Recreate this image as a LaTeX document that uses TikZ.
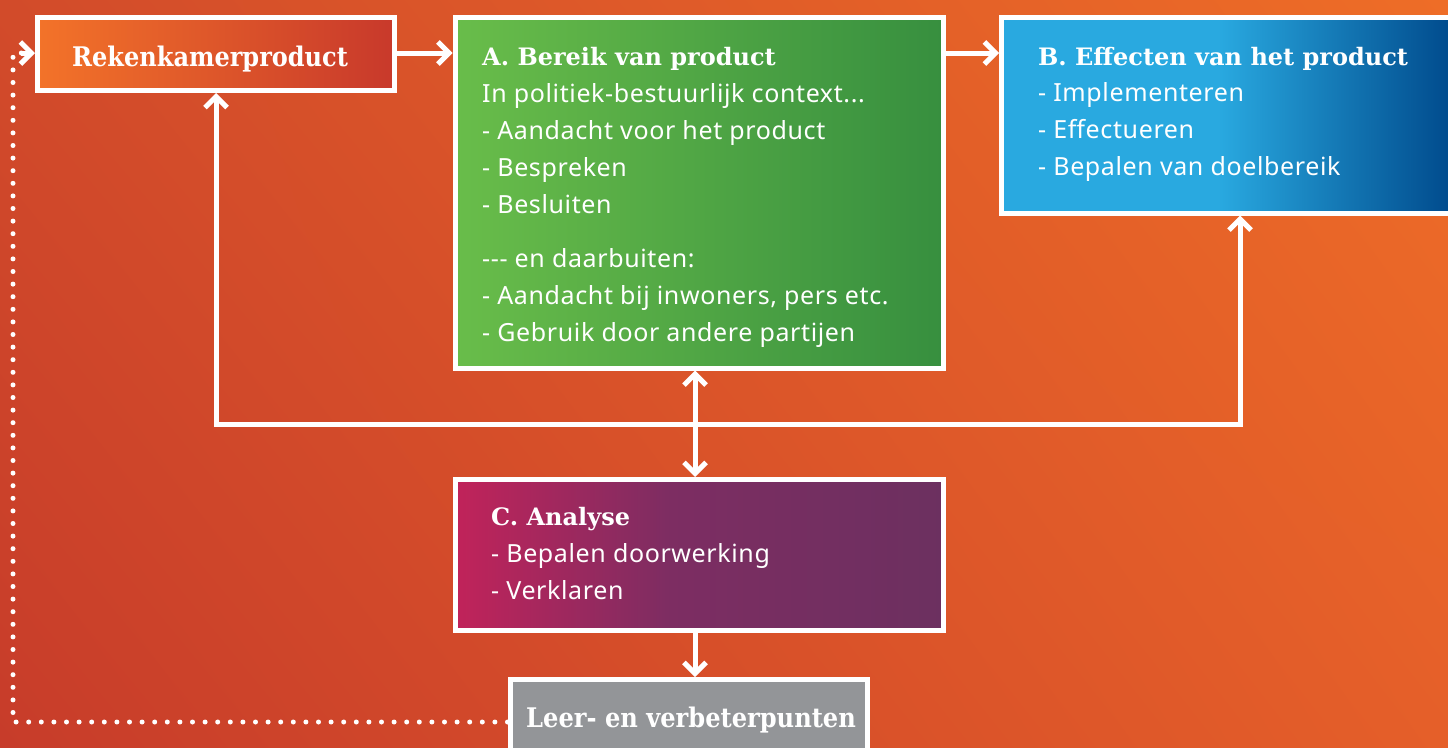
\documentclass[tikz,border=0pt]{standalone}
\usepackage{fontspec}
\usepackage{graphicx}
\setmainfont{Noto Sans}[LetterSpace=2.5]
\newfontfamily\titlefont{DejaVu Serif}
\usetikzlibrary{arrows.meta,shadings}
\definecolor{bgA}{HTML}{D24B2A}
\definecolor{bgB}{HTML}{EE6D27}
\definecolor{bgC}{HTML}{C73C2A}
\definecolor{bgD}{HTML}{E55F29}
\definecolor{rkL}{HTML}{F37329}
\definecolor{rkR}{HTML}{C8392B}
\definecolor{grL}{HTML}{69BD4A}
\definecolor{grR}{HTML}{378F3F}
\definecolor{blL}{HTML}{29A9E0}
\definecolor{blR}{HTML}{004A8C}
\definecolor{puL}{HTML}{C1235A}
\definecolor{puM}{HTML}{7D2D62}
\definecolor{puR}{HTML}{6C3060}
\definecolor{grey}{HTML}{939598}
\pgfdeclarehorizontalshading{blueshade}{100bp}{color(0bp)=(blL); color(25bp)=(blL); color(49bp)=(blL); color(75bp)=(blR); color(100bp)=(blR)}
\pgfdeclarehorizontalshading{purpleshade}{100bp}{color(0bp)=(puL); color(25bp)=(puL); color(47bp)=(puM); color(75bp)=(puR); color(100bp)=(puR)}
\tikzset{
  box/.style={draw=white, line width=5pt, inner sep=0pt, anchor=north west},
  ttl/.style={text=white, inner sep=0pt, anchor=base west, font=\titlefont\bfseries\fontsize{24}{37}\selectfont},
  body/.style={text=white, inner sep=0pt, anchor=base west, align=left, font=\fontsize{25}{37}\selectfont},
  arr/.style={draw=white, line width=5pt, -{Straight Barb[length=11pt,width=22pt,line cap=butt]}},
  arrboth/.style={draw=white, line width=5pt, {Straight Barb[length=11pt,width=22pt]}-{Straight Barb[length=11pt,width=22pt]}},
  dotline/.style={draw=white, line width=5pt, line cap=round, dash pattern=on 0pt off 12.6pt}
}
\begin{document}
\begin{tikzpicture}[x=1pt,y=-1pt]
\useasboundingbox (0,0) rectangle (1448,747);
\shade[upper left=bgA, upper right=bgB, lower left=bgC, lower right=bgD] (0,0) rectangle (1448,747);
% boxes
\node[box, left color=rkL, right color=rkR, minimum width=356.5pt, minimum height=73pt] (rek) at (35,15) {};
\node[box, left color=grL, right color=grR, minimum width=488pt, minimum height=350.5pt] (A) at (452.5,15) {};
\node[box, shading=blueshade, minimum width=452pt, minimum height=195.5pt] (B) at (999,15) {};
\node[box, shading=purpleshade, minimum width=488pt, minimum height=151pt] (C) at (452.5,477) {};
\node[box, fill=grey, minimum width=357pt, minimum height=87pt] (L) at (507.5,677) {};
% texts
\node[ttl, font=\titlefont\bfseries\fontsize{27}{37}\selectfont] (rekt) at (72,66.5) {\scalebox{0.89}[1]{Rekenkamerproduct}};
\node[ttl] (At) at (482,65) {A. Bereik van product};
\node[body] (Ab) at (482,341) {In politiek-bestuurlijk context...\\- Aandacht voor het product\\- Bespreken\\- Besluiten\\[17pt]-{}-{}- en daarbuiten:\\- Aandacht bij inwoners, pers etc.\\- Gebruik door andere partijen};
\node[ttl] (Bt) at (1038,65) {B. Effecten van het product};
\node[body] (Bb) at (1038,175.5) {- Implementeren\\- Effectueren\\- Bepalen van doelbereik};
\node[ttl] (Ct) at (491,525) {C. Analyse};
\node[body] (Cb) at (491,599) {- Bepalen doorwerking\\- Verklaren};
\node[ttl, font=\titlefont\bfseries\fontsize{27}{37}\selectfont] (Lt) at (526,727) {\scalebox{0.894}[1]{Leer- en verbeterpunten}};
% connectors
\coordinate (j1) at (216,424);
\coordinate (j2) at (1240,424);
\coordinate (d1) at (13,722);
\coordinate (d2) at (13,53);
\draw[arr] (rek.east |- 0,53) -- (A.west |- 0,53);
\draw[arr] (A.east |- 0,53) -- (B.west |- 0,53);
\draw[arrboth, line join=miter] (rek.south -| j1) -- (j1) -- (j2) -- (B.south -| j2);
\draw[arrboth] (A.south -| 695,0) -- (C.north -| 695,0);
\draw[arr] (C.south -| 695,0) -- (L.north -| 695,0);
\draw[dotline] (L.west |- d1) -- (d1) -- (d2) -- ([xshift=-6pt]rek.west |- d2);
\draw[arr] ([xshift=-14pt]rek.west |- d2) -- (rek.west |- d2);
\end{tikzpicture}
\end{document}
